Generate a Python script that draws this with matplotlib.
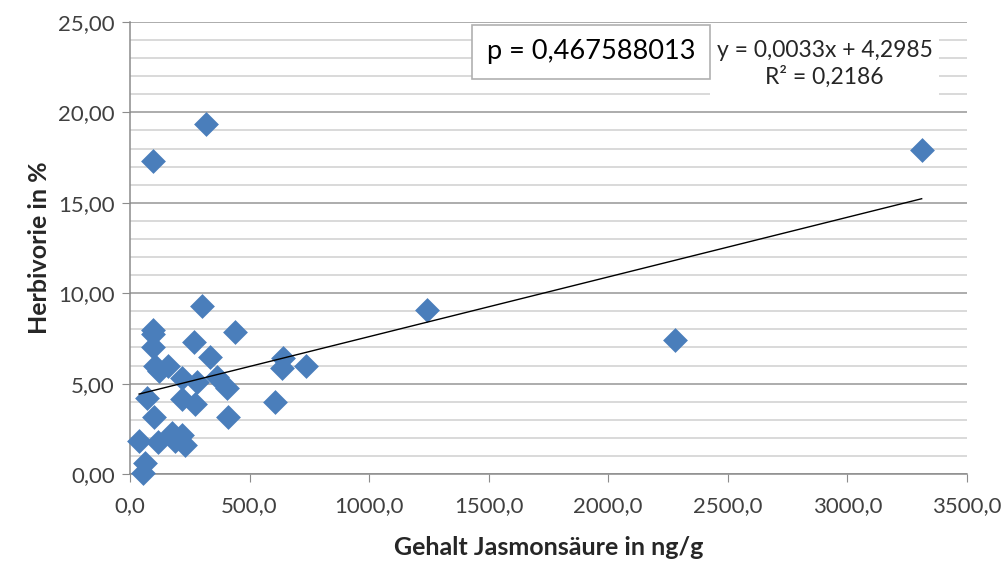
import matplotlib.pyplot as plt
import numpy as np
from matplotlib.ticker import MultipleLocator, FuncFormatter

plt.rcParams['font.family'] = ['Lato', 'DejaVu Sans']

# Jasmonsäure (ng/g) vs. Herbivorie (%)
jasmon = [38, 63, 54, 71, 96, 96, 96, 96, 100, 105, 121, 159, 117,
          176, 217, 230, 188, 217, 217, 272, 280, 301, 268, 334, 439,
          364, 405, 410, 606, 640, 635, 736, 1241, 2280, 3311, 318]
herbivorie = [1.85, 0.62, 0.08, 4.2, 17.3, 7.96, 7.74, 7.0, 3.15, 6.0,
              5.7, 6.0, 1.77, 2.25, 2.16, 1.62, 1.85, 5.3, 4.15, 3.9,
              5.1, 9.3, 7.3, 6.5, 7.85, 5.37, 4.76, 3.15, 3.98, 6.4,
              5.86, 5.97, 9.07, 7.41, 17.92, 19.36]

slope = 0.0033
intercept = 4.2985
r2 = 0.2186
p_value = '0,467588013'

fig = plt.figure(figsize=(10.04, 5.63), dpi=100)
ax = fig.add_axes([0.1295, 0.158, 0.8335, 0.803])

ax.set_xlim(0, 3500)
ax.set_ylim(0, 25)

ax.yaxis.set_major_locator(MultipleLocator(5))
ax.yaxis.set_minor_locator(MultipleLocator(1))
ax.xaxis.set_major_locator(MultipleLocator(500))

ax.grid(which='major', axis='y', color='#a6a6a6', linewidth=1.3)
ax.grid(which='minor', axis='y', color='#cfcfcf', linewidth=1.1)
ax.set_axisbelow(True)

for s in ['top', 'right']:
    ax.spines[s].set_visible(False)
for s in ['left', 'bottom']:
    ax.spines[s].set_color('#8c8c8c')
    ax.spines[s].set_linewidth(1.1)

ax.tick_params(axis='y', which='major', direction='out', length=6,
               color='#8c8c8c', labelsize=16, labelcolor='#404040', pad=5)
ax.tick_params(axis='y', which='minor', length=0)
ax.tick_params(axis='x', which='major', direction='out', length=6,
               color='#8c8c8c', labelsize=16, labelcolor='#404040', pad=10)

ax.yaxis.set_major_formatter(FuncFormatter(lambda v, _: f'{v:.2f}'.replace('.', ',')))
ax.xaxis.set_major_formatter(FuncFormatter(lambda v, _: f'{v:.1f}'.replace('.', ',')))

ax.scatter(jasmon, herbivorie, marker='D', s=160, color='#4a7ebb',
           linewidths=0, zorder=3, clip_on=False)

# linear trend line
xt = np.array([min(jasmon), max(jasmon)])
ax.plot(xt, slope * xt + intercept, color='black', linewidth=1, zorder=4)

ax.set_xlabel('Gehalt Jasmonsäure in ng/g', fontsize=18, fontweight='bold',
              color='#262626', labelpad=14)
ax.set_ylabel('Herbivorie in %', fontsize=18, fontweight='bold',
              color='#262626', labelpad=5)

ax.text(2905, 22.68,
        f'y = {slope:.4f}x + {intercept:.4f}'.replace('.', ',') + '\n'
        + f'R² = {r2:.4f}'.replace('.', ','),
        ha='center', va='center', fontsize=16.5, color='#262626',
        linespacing=1.25, zorder=5,
        bbox=dict(boxstyle='square,pad=0.3', fc='white', ec='none'))

ax.text(1927, 23.34, f'p = {p_value}', ha='center', va='center',
        fontsize=19.5, color='black', zorder=6,
        bbox=dict(boxstyle='square,pad=0.55', fc='white', ec='#b0b0b0', lw=1.2))

fig.savefig('out.png', dpi=100)
